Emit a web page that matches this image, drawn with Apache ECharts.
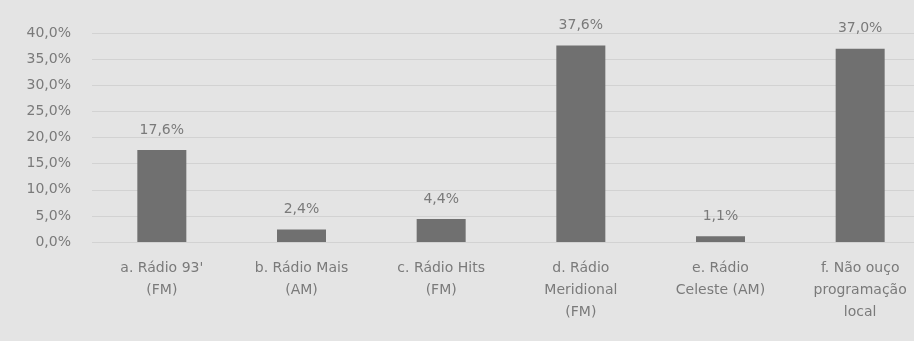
<!DOCTYPE html>
<html><head><meta charset="utf-8">
<script src="https://cdn.jsdelivr.net/npm/echarts@6/dist/echarts.min.js"></script>
<style>html,body{margin:0;padding:0;background:#e4e4e4;overflow:hidden;width:914px;height:341px}#c{width:930px;height:341px}</style>
</head><body><div id="c"></div>
<script>
const categories = ["a. Rádio 93'\n(FM)", "b. Rádio Mais\n(AM)", "c. Rádio Hits\n(FM)", "d. Rádio\nMeridional\n(FM)", "e. Rádio\nCeleste (AM)", "f. Não ouço\nprogramação\nlocal"];
const values = [17.6, 2.4, 4.4, 37.6, 1.1, 37.0];
const yMin = 0, yMax = 40, yStep = 5;

const fmt = v => v.toFixed(1).replace('.', ',') + '%';
const font = "'DejaVu Sans',sans-serif";
const chart = echarts.init(document.getElementById('c'));
chart.setOption({
  backgroundColor: '#e4e4e4',
  animation: false,
  grid: {left: 92, right: 0, top: 33, bottom: 99, containLabel: false},
  xAxis: {
    type: 'category', data: categories,
    axisLine: {show: false}, axisTick: {show: false},
    axisLabel: {color: '#7a7a7a', fontFamily: font, fontSize: 14, lineHeight: 22, margin: 15, interval: 0}
  },
  yAxis: {
    type: 'value', min: yMin, max: yMax, interval: yStep,
    axisLabel: {color: '#7a7a7a', fontFamily: font, fontSize: 14, margin: 21, formatter: v => fmt(v)},
    splitLine: {lineStyle: {color: '#d2d2d2', width: 1}},
    axisLine: {show: false}, axisTick: {show: false}
  },
  series: [{
    type: 'bar', data: values, barWidth: 49,
    itemStyle: {color: '#707070'},
    label: {show: true, position: 'top', distance: 13, color: '#7a7a7a', fontFamily: font, fontSize: 14, formatter: p => fmt(p.value)}
  }]
});
</script></body></html>
